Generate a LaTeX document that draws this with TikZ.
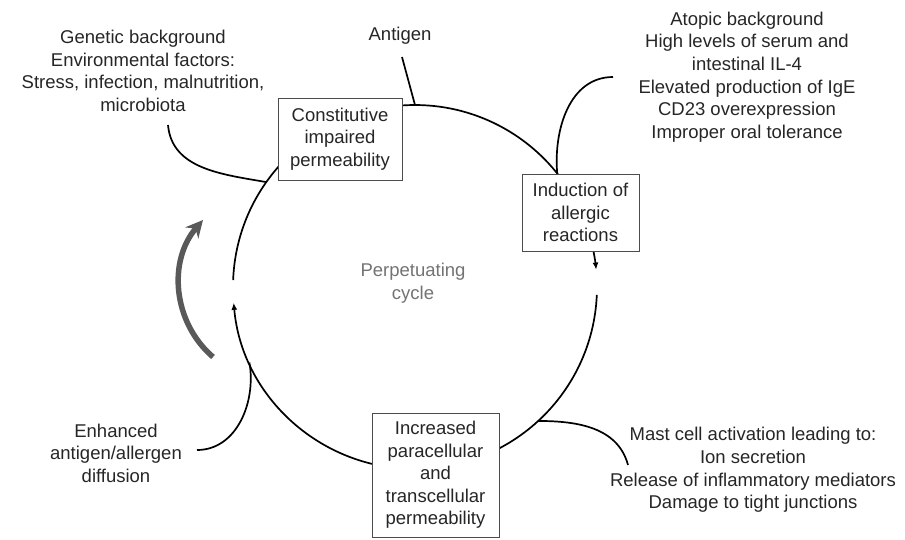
\documentclass[tikz,border=0pt]{standalone}
\usepackage{fontspec}
\setmainfont{Liberation Sans}
\usetikzlibrary{arrows.meta,calc}
\begin{document}
\begin{tikzpicture}[x=1pt,y=1pt,
    every node/.style={font=\fontsize{18.5}{22.6}\selectfont, text=black!85, align=center},
    cyc/.style={line width=1.7pt},
    link/.style={line width=1.7pt},
    stage/.style={draw=black!70, line width=0.9pt, fill=white, inner sep=0pt},
    tip/.style={-{Latex[length=7pt,width=6pt]}}
  ]
  \useasboundingbox (0,0) rectangle (905,-539);
  \coordinate (c) at (415,-287);
  \draw[cyc] ($(c)+(177.8:182)$) arc[start angle=177.8, end angle=30, radius=182];
  \draw[cyc,tip] ($(c)+(12:182)$) arc[start angle=12, end angle=5.5, radius=182];
  \draw[cyc,tip] ($(c)+(-2.5:182)$) arc[start angle=-2.5, end angle=-175, radius=182];
  \coordinate (c-ant) at ($(c)+(90:182)$);
  \coordinate (c-gen) at ($(c)+(144.8:182)$);
  \coordinate (c-ato) at ($(c)+(38.6:182)$);
  \coordinate (c-mast) at ($(c)+(-47.4:182)$);
  \coordinate (c-enh) at ($(c)+(204.5:182)$);
  \node (ant) at (400,-36) {Antigen};
  \node (gen) at (143,-71) {Genetic background\\Environmental factors:\\Stress, infection, malnutrition,\\microbiota};
  \node (ato) at (747,-77) {Atopic background\\High levels of serum and\\intestinal IL-4\\Elevated production of IgE\\CD23 overexpression\\Improper oral tolerance};
  \node (mast) at (753,-470) {Mast cell activation leading to:\\Ion secretion\\Release of inflammatory mediators\\Damage to tight junctions};
  \node (enh) at (116,-453) {Enhanced\\antigen/allergen\\diffusion};
  \node[text=black!55] (cycle) at (413,-283) {Perpetuating\\cycle};
  \coordinate (ant-out) at (402,-57);
  \coordinate (gen-out) at (168,-125);
  \coordinate (ato-out) at (613,-77);
  \coordinate (mast-out) at (628,-465);
  \coordinate (enh-out) at (197,-450);
  \draw[link] (ant-out) -- (c-ant);
  \draw[link] (gen-out) to[out=-85, in=170] (c-gen);
  \draw[link] (ato-out) to[out=180, in=95] (c-ato);
  \draw[link] (mast-out) to[out=105, in=0] (c-mast);
  \draw[link] (enh-out) to[out=0, in=-80] (c-enh);
  \draw[line width=5.5pt, black!65, -{Stealth[length=17pt,width=17pt]}] (213,-357) to[bend left=45] (203,-220);
  \node[stage, minimum width=124, minimum height=82] (perm) at (340,-139) {Constitutive\\impaired\\permeability};
  \node[stage, minimum width=117, minimum height=77] (ind) at (580.5,-212.5) {Induction of\\allergic\\reactions};
  \node[stage, minimum width=127, minimum height=124] (incr) at (435.5,-475) {Increased\\paracellular\\and\\transcellular\\permeability};
\end{tikzpicture}
\end{document}
